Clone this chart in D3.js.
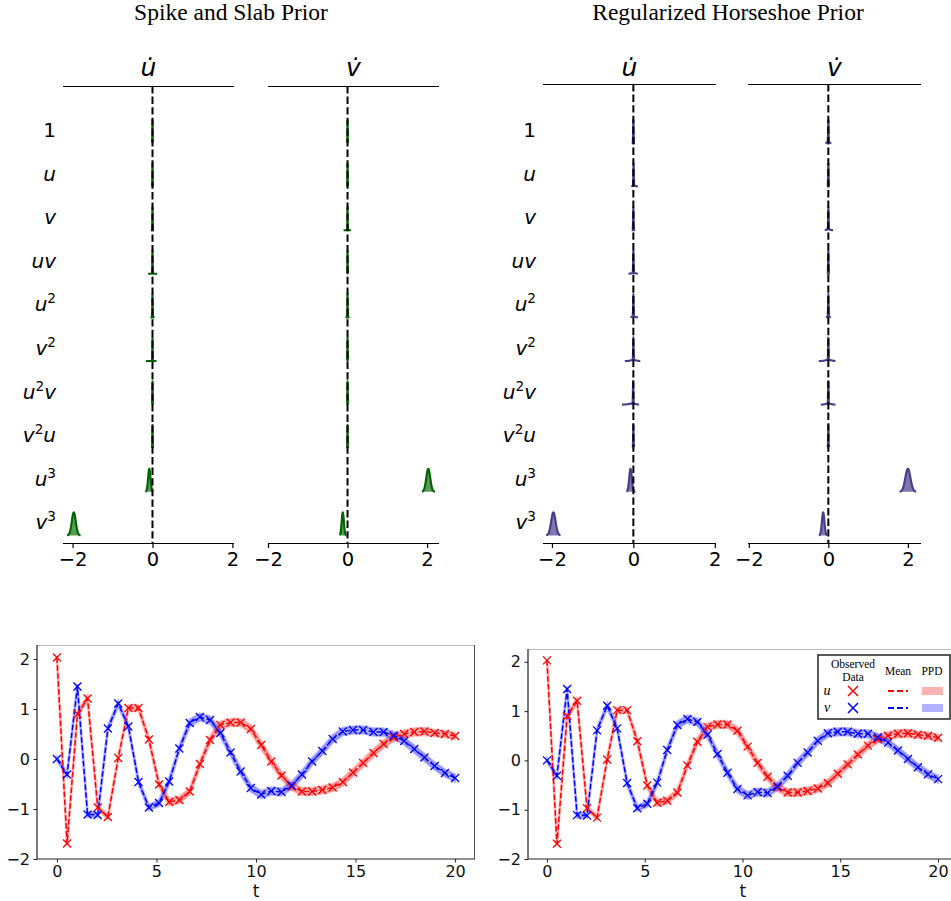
<!DOCTYPE html>
<html><head><meta charset="utf-8">
<script src="https://cdn.jsdelivr.net/npm/d3@7"></script>
<style>body{margin:0;background:#fff} svg{display:block}</style>
</head><body>
<svg id="c" width="951" height="901"></svg>
<script>
// ---------------- DATA ----------------
const terms = ["1","u","v","uv","u^2","v^2","u^2v","v^2u","u^3","v^3"];
const equations = ["u","v"];
const priorTitles = ["Spike and Slab Prior","Regularized Horseshoe Prior"];
const coefTicks = [-2, 0, 2];

// posterior densities per term: mean m, sd s, support [lo,hi], optional tail component (tm, ts, tw)
const ssUdot = [
  {m:0, s:0.004, lo:-0.015, hi:0.015},
  {m:0, s:0.004, lo:-0.015, hi:0.015},
  {m:0, s:0.004, lo:-0.04, hi:0.04},
  {m:0, s:0.004, lo:-0.11, hi:0.115},
  {m:0, s:0.004, lo:-0.05, hi:0.05},
  {m:0, s:0.004, lo:-0.165, hi:0.1},
  {m:0, s:0.004, lo:-0.015, hi:0.015},
  {m:0, s:0.004, lo:-0.015, hi:0.015},
  {m:-0.08, s:0.03, lo:-0.18, hi:0.02},
  {m:-1.97, s:0.05, lo:-2.14, hi:-1.8}
];
const ssVdot = [
  {m:0, s:0.004, lo:-0.015, hi:0.015},
  {m:0, s:0.004, lo:-0.015, hi:0.015},
  {m:0, s:0.004, lo:-0.1, hi:0.085},
  {m:0, s:0.004, lo:-0.015, hi:0.015},
  {m:0, s:0.004, lo:-0.05, hi:0.05},
  {m:0, s:0.004, lo:-0.015, hi:0.015},
  {m:0, s:0.004, lo:-0.015, hi:0.015},
  {m:0, s:0.004, lo:-0.015, hi:0.015},
  {m:2.03, s:0.05, lo:1.87, hi:2.2},
  {m:-0.12, s:0.028, lo:-0.2, hi:-0.03}
];
const hsUdot = [
  {m:0, s:0.006, lo:-0.04, hi:0.04},
  {m:0.005, s:0.006, lo:-0.05, hi:0.11, tm:0.02, ts:0.04, tw:0.3},
  {m:0, s:0.006, lo:-0.04, hi:0.04},
  {m:0, s:0.006, lo:-0.12, hi:0.11, tm:0, ts:0.05, tw:0.3},
  {m:0, s:0.006, lo:-0.07, hi:0.11, tm:0, ts:0.04, tw:0.3},
  {m:0, s:0.006, lo:-0.21, hi:0.17, tm:0, ts:0.06, tw:0.5},
  {m:-0.005, s:0.006, lo:-0.28, hi:0.14, tm:-0.04, ts:0.08, tw:0.6},
  {m:0, s:0.006, lo:-0.015, hi:0.015},
  {m:-0.07, s:0.032, lo:-0.17, hi:0.05},
  {m:-1.965, s:0.055, lo:-2.14, hi:-1.79}
];
const hsVdot = [
  {m:0, s:0.006, lo:-0.075, hi:0.075, tm:0, ts:0.03, tw:0.2},
  {m:0, s:0.006, lo:-0.03, hi:0.03},
  {m:0, s:0.006, lo:-0.09, hi:0.12, tm:0, ts:0.04, tw:0.3},
  {m:0, s:0.006, lo:-0.04, hi:0.04},
  {m:0, s:0.006, lo:-0.06, hi:0.06, tm:0, ts:0.03, tw:0.2},
  {m:0, s:0.006, lo:-0.24, hi:0.18, tm:0, ts:0.07, tw:0.6},
  {m:0, s:0.006, lo:-0.19, hi:0.18, tm:0, ts:0.06, tw:0.5},
  {m:0, s:0.006, lo:-0.015, hi:0.015},
  {m:2.0, s:0.065, lo:1.79, hi:2.21},
  {m:-0.13, s:0.032, lo:-0.24, hi:-0.03}
];

// time series
const tVals = [0,0.51,1.03,1.54,2.05,2.56,3.08,3.59,4.10,4.62,5.13,5.64,6.15,6.67,7.18,7.69,8.21,8.72,9.23,9.74,
  10.26,10.77,11.28,11.79,12.31,12.82,13.33,13.85,14.36,14.87,15.38,15.90,16.41,16.92,17.44,17.95,18.46,18.97,19.49,20.0];
const uObs = [2.03,-1.69,0.90,1.21,-0.97,-1.16,0.02,1.02,1.02,0.39,-0.51,-0.86,-0.82,-0.65,-0.10,0.38,0.68,0.73,0.73,0.60,
  0.28,-0.05,-0.33,-0.55,-0.65,-0.65,-0.62,-0.57,-0.46,-0.27,-0.08,0.12,0.30,0.43,0.50,0.54,0.55,0.52,0.50,0.46];
const vObs = [0.0,-0.31,1.45,-1.11,-1.12,0.61,1.11,0.65,-0.46,-0.97,-0.88,-0.45,0.21,0.72,0.84,0.78,0.52,0.13,-0.25,-0.58,
  -0.71,-0.64,-0.66,-0.53,-0.31,-0.05,0.16,0.40,0.55,0.58,0.58,0.54,0.54,0.47,0.36,0.20,0.03,-0.14,-0.28,-0.38];
const uSpread = [0.03,0.04,0.05,0.05,0.04,0.04,0.04,0.05,0.05,0.05,0.05,0.06,0.06,0.06,0.06,0.07,0.07,0.07,0.07,0.07,
  0.07,0.07,0.07,0.07,0.07,0.07,0.07,0.07,0.07,0.07,0.07,0.07,0.07,0.07,0.07,0.07,0.07,0.06,0.06,0.06];
const vSpread = [0.03,0.04,0.05,0.05,0.04,0.05,0.05,0.05,0.05,0.05,0.06,0.06,0.06,0.07,0.07,0.07,0.07,0.07,0.07,0.07,
  0.07,0.07,0.07,0.07,0.07,0.07,0.07,0.07,0.07,0.07,0.07,0.07,0.07,0.07,0.07,0.07,0.07,0.07,0.07,0.07];
const tsTicksX = [0,5,10,15,20];
const tsTicksY = [-2,-1,0,1,2];
const legendCols = ["Observed Data","Mean","PPD"];
const legendRows = ["u","v"];

// ---------------- DRAW ----------------
const svg = d3.select("#c");
const SANS = "DejaVu Sans, sans-serif";
const SERIF = "Liberation Serif, Times New Roman, serif";

svg.append("text").attr("x",231).attr("y",20).attr("text-anchor","middle")
  .attr("font-family",SERIF).attr("font-size",23.5).text(priorTitles[0]);
svg.append("text").attr("x",728).attr("y",20).attr("text-anchor","middle")
  .attr("font-family",SERIF).attr("font-size",23.5).text(priorTitles[1]);

const rowY = d3.scalePoint().domain(terms).range([130, 522.4]);
const ridgeH = 23, ridgeOff = 13;

function addMath(sel, label, size){
  let i = 0; let shifted = false;
  while(i < label.length){
    const ch = label[i];
    if(ch === "^"){
      const d = label[i+1];
      sel.append("tspan").attr("font-size", size*0.68).attr("font-style","normal").attr("dy", -size*0.4).text(d);
      shifted = true; i += 2; continue;
    }
    const ts = sel.append("tspan").text(ch)
      .attr("font-style", /[a-z]/.test(ch) ? "italic" : "normal");
    if(shifted){ ts.attr("dy", size*0.4); shifted = false; }
    i++;
  }
}

const panels = [
  {data: ssUdot, eq:0, x0:63, x1:234, lim:[-2.24,2.04], top:86, color:"#006400", fop:0.65},
  {data: ssVdot, eq:1, x0:268, x1:439, lim:[-2.0,2.3], top:86, color:"#006400", fop:0.65},
  {data: hsUdot, eq:0, x0:543, x1:716, lim:[-2.22,2.03], top:84, color:"#483d8b", fop:0.7},
  {data: hsVdot, eq:1, x0:748, x1:921, lim:[-2.02,2.33], top:84, color:"#483d8b", fop:0.7}
];
const bottomY = 543;

panels.forEach((p, pi) => {
  const g = svg.append("g");
  const x = d3.scaleLinear().domain(p.lim).range([p.x0, p.x1]);
  const tx = (p.x0 + p.x1)/2;
  g.append("text").attr("x",tx).attr("y",76).attr("text-anchor","middle")
    .attr("font-family",SANS).attr("font-style","italic").attr("font-size",25)
    .text(equations[p.eq] + "\u0307");
  g.append("line").attr("x1",p.x0).attr("x2",p.x1).attr("y1",p.top+0.5).attr("y2",p.top+0.5)
    .attr("stroke","#000").attr("stroke-width",1.2);
  const ax = g.append("g").attr("transform",`translate(0,${bottomY})`)
    .call(d3.axisBottom(x).tickValues(coefTicks).tickSize(5).tickPadding(4).tickFormat(d3.format("d")));
  ax.select(".domain").attr("stroke-width",1.2).attr("d",`M${p.x0},0.5H${p.x1}`);
  ax.selectAll(".tick line").attr("stroke-width",1.2);
  ax.selectAll("text").attr("font-family",SANS).attr("font-size",19.5).attr("fill","#000");
  if(p.eq === 0){
    terms.forEach(tm => {
      const t = g.append("text").attr("x",p.x0-7).attr("y",rowY(tm)+7).attr("text-anchor","end")
        .attr("font-family",SANS).attr("font-size",20);
      addMath(t, tm, 20);
    });
  }
  p.data.forEach((d, ri) => {
    const base = rowY(terms[ri]) + ridgeOff;
    const n = 600;
    const xs = d3.range(n+1).map(k => d.lo + (d.hi - d.lo)*k/n);
    xs.push(d.m); xs.sort((a,b)=>a-b);
    const dens = xv => {
      let v = Math.exp(-0.5*((xv-d.m)/d.s)**2)/d.s;
      if(d.tw) v += d.tw*Math.exp(-0.5*((xv-d.tm)/d.ts)**2)/d.ts;
      return v;
    };
    const pts = xs.map(xv => [xv, dens(xv)]);
    const mx = d3.max(pts, q => q[1]);
    const yv = q => base - ridgeH*q[1]/mx;
    g.append("path").datum(pts)
      .attr("d", d3.area().x(q=>x(q[0])).y0(base).y1(yv))
      .attr("fill", p.color).attr("fill-opacity", p.fop).attr("stroke","none");
    g.append("path").datum(pts)
      .attr("d", d3.line().x(q=>x(q[0])).y(yv))
      .attr("fill","none").attr("stroke", p.color).attr("stroke-width",2.1);
  });
  g.append("line").attr("x1",x(0)).attr("x2",x(0)).attr("y1",p.top).attr("y2",bottomY)
    .attr("stroke","#000").attr("stroke-width",2).attr("stroke-dasharray","7.4,3.2");
});

// ---------------- time series panels ----------------
const tsPanels = [
  {x0:37, x1:475, y0:645, y1:859, xlim:[-1,21], ylim:[-2,2.28], legend:false},
  {x0:528, x1:957.6, y0:649, y1:859, xlim:[-0.97,21], ylim:[-2,2.26], legend:true}
];
const series = [
  {obs:uObs, spread:uSpread, color:"#ff0000"},
  {obs:vObs, spread:vSpread, color:"#0000ff"}
];

function xMark(g, cx, cy, r, color, sw){
  g.append("path").attr("d",`M${cx-r},${cy-r}L${cx+r},${cy+r}M${cx-r},${cy+r}L${cx+r},${cy-r}`)
    .attr("stroke",color).attr("stroke-width",sw).attr("fill","none");
}

tsPanels.forEach(p => {
  const g = svg.append("g");
  const x = d3.scaleLinear().domain(p.xlim).range([p.x0, p.x1]);
  const y = d3.scaleLinear().domain(p.ylim).range([p.y1, p.y0]);
  const clipId = "clip" + p.x0;
  svg.append("clipPath").attr("id",clipId).append("rect")
    .attr("x",p.x0).attr("y",p.y0).attr("width",p.x1-p.x0).attr("height",p.y1-p.y0);
  const pl = g.append("g").attr("clip-path",`url(#${clipId})`);
  series.forEach(s => {
    pl.append("path").datum(tVals.map((t,i)=>[t, s.obs[i], s.spread[i]]))
      .attr("d", d3.area().x(q=>x(q[0])).y0(q=>y(q[1]-q[2])).y1(q=>y(q[1]+q[2])))
      .attr("fill", s.color).attr("fill-opacity",0.28).attr("stroke",s.color).attr("stroke-opacity",0.28).attr("stroke-width",2.5);
  });
  series.forEach(s => {
    pl.append("path").datum(tVals.map((t,i)=>[t, s.obs[i]]))
      .attr("d", d3.line().x(q=>x(q[0])).y(q=>y(q[1])))
      .attr("fill","none").attr("stroke",s.color).attr("stroke-width",1.5).attr("stroke-dasharray","5.5,2.4");
  });
  series.forEach(s => {
    tVals.forEach((t,i) => xMark(pl, x(t), y(s.obs[i]), 4, s.color, 1.3));
  });
  const ax = g.append("g").attr("transform",`translate(0,${p.y1})`)
    .call(d3.axisBottom(x).tickValues(tsTicksX).tickSize(3.5).tickPadding(3.5).tickFormat(d3.format("d")));
  const ay = g.append("g").attr("transform",`translate(${p.x0},0)`)
    .call(d3.axisLeft(y).tickValues(tsTicksY).tickSize(3.5).tickPadding(3.5).tickFormat(d3.format("d")));
  [ax, ay].forEach(a => {
    a.select(".domain").remove();
    a.selectAll("text").attr("font-family",SANS).attr("font-size",16).attr("fill","#111");
    a.selectAll(".tick line").attr("stroke","#222");
  });
  g.append("line").attr("x1",p.x0).attr("x2",p.x1).attr("y1",p.y0+0.5).attr("y2",p.y0+0.5).attr("stroke","#bbb").attr("stroke-width",1.2);
  g.append("line").attr("x1",p.x1-0.5).attr("x2",p.x1-0.5).attr("y1",p.y0).attr("y2",p.y1).attr("stroke","#555").attr("stroke-width",1);
  g.append("line").attr("x1",p.x0).attr("x2",p.x0).attr("y1",p.y0).attr("y2",p.y1).attr("stroke","#222").attr("stroke-width",1.2);
  g.append("line").attr("x1",p.x0).attr("x2",p.x1).attr("y1",p.y1).attr("y2",p.y1).attr("stroke","#222").attr("stroke-width",1.2);
  g.append("text").attr("x",(p.x0+p.x1)/2).attr("y",897).attr("text-anchor","middle")
    .attr("font-family",SANS).attr("font-size",17).attr("fill","#111").text("t");

  if(p.legend){
    const lg = g.append("g");
    lg.append("rect").attr("x",818).attr("y",655).attr("width",132).attr("height",64)
      .attr("fill","#fff").attr("stroke","#222").attr("stroke-width",1.5);
    const hdr = lg.append("text").attr("x",853).attr("y",668).attr("text-anchor","middle")
      .attr("font-family",SERIF).attr("font-size",11.5);
    const words = legendCols[0].split(" ");
    hdr.append("tspan").attr("x",853).text(words[0]);
    hdr.append("tspan").attr("x",853).attr("dy",13).text(words[1]);
    lg.append("text").attr("x",898).attr("y",675).attr("text-anchor","middle")
      .attr("font-family",SERIF).attr("font-size",11.5).text(legendCols[1]);
    lg.append("text").attr("x",932).attr("y",675).attr("text-anchor","middle")
      .attr("font-family",SERIF).attr("font-size",11.5).text(legendCols[2]);
    legendRows.forEach((r, k) => {
      const cy = 691 + k*17;
      lg.append("text").attr("x",827).attr("y",cy+4).attr("text-anchor","middle")
        .attr("font-family",SERIF).attr("font-style","italic").attr("font-size",14).text(r);
      xMark(lg, 853, cy, 5, series[k].color, 1.5);
      lg.append("line").attr("x1",888).attr("x2",908).attr("y1",cy).attr("y2",cy)
        .attr("stroke",series[k].color).attr("stroke-width",2).attr("stroke-dasharray","6,3");
      lg.append("rect").attr("x",922).attr("y",cy-4).attr("width",21).attr("height",8)
        .attr("fill",series[k].color).attr("fill-opacity",0.3);
    });
  }
});
</script>
</body></html>
